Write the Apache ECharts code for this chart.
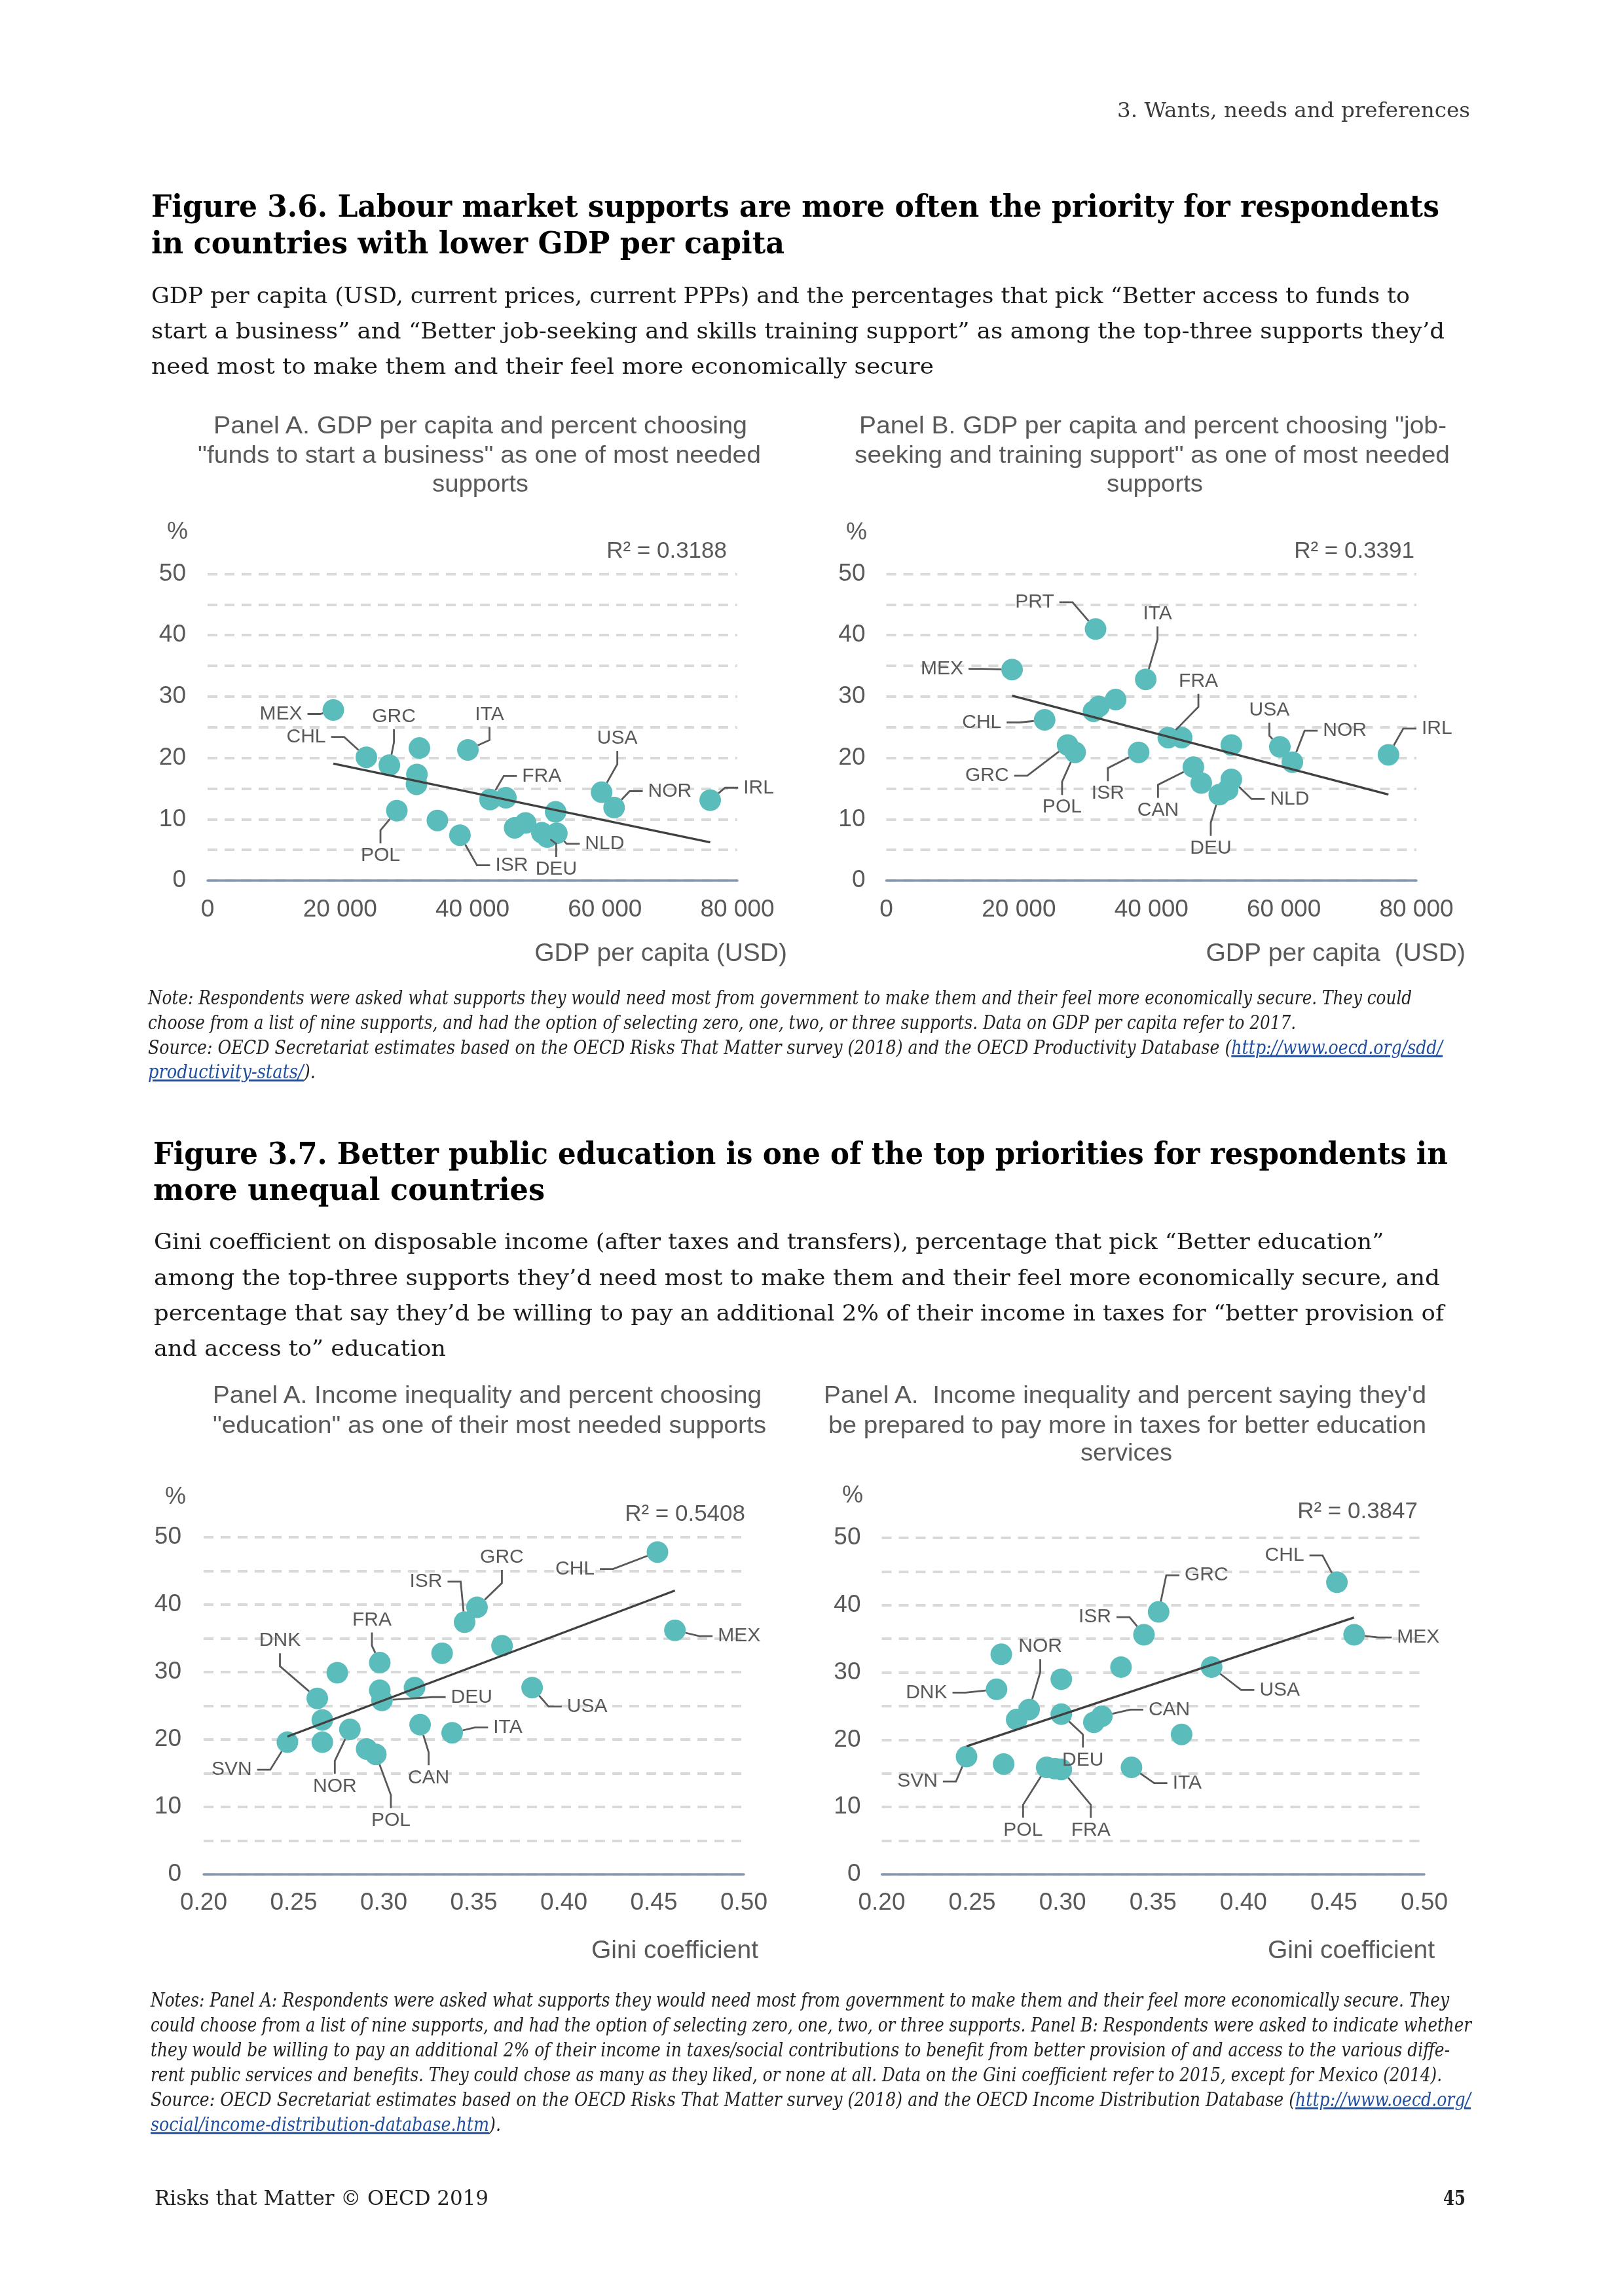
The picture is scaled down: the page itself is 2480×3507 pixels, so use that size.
<!DOCTYPE html>
<html>
<head>
<meta charset="utf-8">
<script src="https://cdn.jsdelivr.net/npm/echarts@6/dist/echarts.min.js"></script>
<style>
html,body{margin:0;padding:0;background:#fff;}
#page{position:relative;width:2480px;height:3507px;overflow:hidden;background:#fff;}
#chart{position:absolute;left:0;top:0;width:2480px;height:3507px;}
.ln{position:absolute;white-space:nowrap;transform-origin:0 50%;line-height:1.15;}
.hdr{font-family:"DejaVu Serif",serif;font-size:32px;color:#3a3a3a;}
.ttl{font-family:"DejaVu Serif",serif;font-weight:bold;font-size:46px;color:#000;}
.sub{font-family:"DejaVu Serif",serif;font-size:33px;color:#1a1a1a;}
.pt{font-family:"Liberation Sans",Arial,sans-serif;font-size:37px;color:#595959;}
.nt{font-family:"DejaVu Serif",serif;font-style:italic;font-size:30px;color:#222;}
.ft{font-family:"DejaVu Serif",serif;font-size:32px;color:#222;}
.ftb{font-family:"DejaVu Serif",serif;font-size:32px;font-weight:bold;color:#222;}
.lnk{color:#1F4E9E;text-decoration:underline;}
</style>
</head>
<body>
<div id="page"><div id="chart"></div></div>
<script>
// ---------------- DATA ----------------
// Figure 3.6 Panel A: GDP per capita (USD) vs % choosing "funds to start a business"
const namesA = ['MEX','CHL','GRC','','','','POL','','ISR','ITA','FRA','','','','DEU','NLD','','','USA','NOR','IRL'];
const gdpA   = [18990,23980,27450,31990,31610,31550,28580,34700,38110,39310,42650,45050,46370,48010,50470,52740,51290,52560,59500,61390,75900];
const fundsPct = [27.8,20.1,18.8,21.6,17.3,15.7,11.4,9.8,7.4,21.3,13.2,13.5,8.6,9.4,7.8,7.7,7.1,11.2,14.4,11.9,13.1];

// Figure 3.6 Panel B: GDP per capita (USD) vs % choosing "job-seeking and training support"
const namesB = ['MEX','CHL','GRC','POL','PRT','','','','ISR','ITA','FRA','','CAN','','DEU','','NLD','','USA','NOR','IRL'];
const gdpB   = [18980,23890,27360,28500,31580,32090,31270,34610,38080,39150,42550,44570,46340,47530,50250,51510,52070,52070,59390,61280,75780];
const jobPct = [34.4,26.2,22.1,20.9,41.0,28.4,27.6,29.5,20.9,32.8,23.3,23.3,18.5,15.9,14.0,14.8,16.5,22.1,21.8,19.3,20.5];

// Figure 3.7 Panel A: Gini coefficient vs % choosing "education"
const namesC = ['SVN','','DNK','','','NOR','','POL','FRA','','DEU','','CAN','','ITA','ISR','GRC','','USA','CHL','MEX'];
const giniA  = [0.2465,0.2659,0.2631,0.2659,0.2742,0.2812,0.2905,0.2956,0.2978,0.2978,0.2990,0.3171,0.3202,0.3324,0.3380,0.3449,0.3518,0.3657,0.3824,0.4520,0.4617];
const eduPct = [19.6,19.6,26.1,22.9,29.9,21.5,18.6,17.8,31.4,27.3,25.8,27.7,22.2,32.8,21.0,37.4,39.6,33.9,27.7,47.8,36.2];

// Figure 3.7 Panel B: Gini coefficient vs % willing to pay more taxes for education
const namesD = ['SVN','','DNK','','','NOR','POL','','FRA','','DEU','','CAN','','ITA','ISR','GRC','','USA','CHL','MEX'];
const giniB  = [0.2469,0.2674,0.2635,0.2661,0.2746,0.2815,0.2912,0.2958,0.2993,0.2993,0.2993,0.3173,0.3217,0.3323,0.3381,0.3450,0.3531,0.3658,0.3824,0.4517,0.4612];
const taxPct = [17.5,16.4,27.5,32.7,23.0,24.5,15.9,15.7,15.6,29.0,23.8,22.6,23.5,30.8,15.9,35.6,39.0,20.8,30.8,43.4,35.6];

const r2Labels = ['R\u00B2 = 0.3188','R\u00B2 = 0.3391','R\u00B2 = 0.5408','R\u00B2 = 0.3847'];
const xTitles = ['GDP per capita (USD)','GDP per capita  (USD)','Gini coefficient','Gini coefficient'];

// ---------------- LABEL OFFSETS (layout, px) ----------------
const offA = {MEX:[-80,6],CHL:[-92,-31],GRC:[7,-74],POL:[-25,69],ISR:[79,46],ITA:[33,-54],FRA:[79,-36],DEU:[22,56],NLD:[73,16],USA:[24,-82],NOR:[85,-25],IRL:[74,-19]};
const offB = {MEX:[-107,-1],CHL:[-96,4],GRC:[-123,47],POL:[-20,84],PRT:[-93,-41],ISR:[-47,63],ITA:[18,-100],FRA:[46,-86],CAN:[-54,66],DEU:[-13,82],NLD:[89,30],USA:[-16,-56],NOR:[80,-48],IRL:[74,-40]};
const offC = {SVN:[-85,42],DNK:[-57,-88],NOR:[-23,87],POL:[23,101],FRA:[-12,-65],DEU:[137,-5],CAN:[13,81],ITA:[85,-8],ISR:[-59,-62],GRC:[38,-76],USA:[84,29],CHL:[-126,26],MEX:[98,9]};
const offD = {SVN:[-75,38],DNK:[-107,5],NOR:[17,-96],POL:[-36,96],FRA:[45,93],DEU:[33,70],CAN:[103,-10],ITA:[85,24],ISR:[-75,-27],GRC:[73,-56],USA:[104,35],CHL:[-80,-41],MEX:[98,4]};

// ---------------- PAGE TEXT ----------------
const textLines = [
 {h:'3. Wants, needs and preferences', x:1706, cy:168, w:539, c:'hdr'},
 {h:'Figure 3.6. Labour market supports are more often the priority for respondents', x:231, cy:315, w:1967, c:'ttl'},
 {h:'in countries with lower GDP per capita', x:231, cy:371, w:967, c:'ttl'},
 {h:'GDP per capita (USD, current prices, current PPPs) and the percentages that pick \u201CBetter access to funds to', x:231, cy:452, w:1922, c:'sub'},
 {h:'start a business\u201D and \u201CBetter job-seeking and skills training support\u201D as among the top-three supports they\u2019d', x:231, cy:506, w:1975, c:'sub'},
 {h:'need most to make them and their feel more economically secure', x:231, cy:560, w:1195, c:'sub'},
 {h:'Panel A. GDP per capita and percent choosing', cx:733, cy:650, w:815, c:'pt'},
 {h:'"funds to start a business" as one of most needed', cx:732, cy:695, w:860, c:'pt'},
 {h:'supports', cx:733, cy:739, w:147, c:'pt'},
 {h:'Panel B. GDP per capita and percent choosing "job-', cx:1760, cy:650, w:897, c:'pt'},
 {h:'seeking and training support" as one of most needed', cx:1759, cy:695, w:909, c:'pt'},
 {h:'supports', cx:1763, cy:739, w:147, c:'pt'},
 {h:'Note: Respondents were asked what supports they would need most from government to make them and their feel more economically secure. They could', x:226, cy:1524, w:1930, c:'nt'},
 {h:'choose from a list of nine supports, and had the option of selecting zero, one, two, or three supports. Data on GDP per capita refer to 2017.', x:226, cy:1562, w:1753, c:'nt'},
 {h:'Source: OECD Secretariat estimates based on the OECD Risks That Matter survey (2018) and the OECD Productivity Database (<span class="lnk">http://www.oecd.org/sdd/</span>', x:226, cy:1600, w:1977, c:'nt'},
 {h:'<span class="lnk">productivity-stats/</span>).', x:226, cy:1637, w:256, c:'nt'},
 {h:'Figure 3.7. Better public education is one of the top priorities for respondents in', x:234, cy:1762, w:1977, c:'ttl'},
 {h:'more unequal countries', x:234, cy:1817, w:598, c:'ttl'},
 {h:'Gini coefficient on disposable income (after taxes and transfers), percentage that pick \u201CBetter education\u201D', x:235, cy:1897, w:1878, c:'sub'},
 {h:'among the top-three supports they\u2019d need most to make them and their feel more economically secure, and', x:235, cy:1952, w:1964, c:'sub'},
 {h:'percentage that say they\u2019d be willing to pay an additional 2% of their income in taxes for \u201Cbetter provision of', x:235, cy:2006, w:1970, c:'sub'},
 {h:'and access to\u201D education', x:235, cy:2060, w:446, c:'sub'},
 {h:'Panel A. Income inequality and percent choosing', cx:744, cy:2131, w:838, c:'pt'},
 {h:'"education" as one of their most needed supports', cx:747, cy:2177, w:845, c:'pt'},
 {h:'Panel A.&nbsp; Income inequality and percent saying they\'d', cx:1718, cy:2131, w:920, c:'pt'},
 {h:'be prepared to pay more in taxes for better education', cx:1721, cy:2177, w:913, c:'pt'},
 {h:'services', cx:1720, cy:2219, w:140, c:'pt'},
 {h:'Notes: Panel A: Respondents were asked what supports they would need most from government to make them and their feel more economically secure. They', x:230, cy:3055, w:1983, c:'nt'},
 {h:'could choose from a list of nine supports, and had the option of selecting zero, one, two, or three supports. Panel B: Respondents were asked to indicate whether', x:230, cy:3093, w:2017, c:'nt'},
 {h:'they would be willing to pay an additional 2% of their income in taxes/social contributions to benefit from better provision of and access to the various diffe-', x:230, cy:3131, w:1984, c:'nt'},
 {h:'rent public services and benefits. They could chose as many as they liked, or none at all. Data on the Gini coefficient refer to 2015, except for Mexico (2014).', x:230, cy:3169, w:1972, c:'nt'},
 {h:'Source: OECD Secretariat estimates based on the OECD Risks That Matter survey (2018) and the OECD Income Distribution Database (<span class="lnk">http://www.oecd.org/</span>', x:230, cy:3207, w:2016, c:'nt'},
 {h:'<span class="lnk">social/income-distribution-database.htm</span>).', x:230, cy:3245, w:535, c:'nt'},
 {h:'Risks that Matter \u00A9 OECD 2019', x:236, cy:3357, w:510, c:'ft'},
 {h:'45', x:2204, cy:3357, w:34, c:'ftb'}
];

const page = document.getElementById('page');
textLines.forEach(L => {
  const d = document.createElement('div');
  d.className = 'ln ' + L.c;
  d.innerHTML = L.h;
  page.appendChild(d);
  const nat = d.getBoundingClientRect().width;
  const k = nat > 0 ? L.w / nat : 1;
  const x = (L.cx != null) ? (L.cx - L.w / 2) : L.x;
  d.style.left = x + 'px';
  d.style.top = L.cy + 'px';
  d.style.transform = 'translateY(-50%) scaleX(' + k.toFixed(4) + ')';
});

// ---------------- CHART ----------------
function fmtThousands(v) { return v === 0 ? '0' : String(Math.round(v)).replace(/\B(?=(\d{3})+(?!\d))/g, ' '); }
function fmtGini(v) { return Number(v).toFixed(2); }
function trend(xs, ys) {
  const n = xs.length;
  let sx = 0, sy = 0;
  for (let i = 0; i < n; i++) { sx += xs[i]; sy += ys[i]; }
  const mx = sx / n, my = sy / n;
  let sxy = 0, sxx = 0;
  for (let i = 0; i < n; i++) { sxy += (xs[i] - mx) * (ys[i] - my); sxx += (xs[i] - mx) * (xs[i] - mx); }
  const b = sxy / sxx, a = my - b * mx;
  const x0 = Math.min.apply(null, xs), x1 = Math.max.apply(null, xs);
  return [[x0, a + b * x0], [x1, a + b * x1]];
}

const FONT = '"Liberation Sans", Arial, sans-serif';
const TEAL = '#5BBCBC';
const GREY = '#595959';

const panels = [
  {names:namesA, xs:gdpA, ys:fundsPct, offs:offA, grid:{left:317, top:876.5, width:809, height:468.5},
   xMin:0, xMax:80000, xInt:20000, fmt:fmtThousands, yMargin:33, xMargin:26,
   pct:[271,813], r2:[1110,842], xt:[1202,1457]},
  {names:namesB, xs:gdpB, ys:jobPct, offs:offB, grid:{left:1353.5, top:876.5, width:809.5, height:468.5},
   xMin:0, xMax:80000, xInt:20000, fmt:fmtThousands, yMargin:32, xMargin:26,
   pct:[1308,814], r2:[2160,842], xt:[2238,1457]},
  {names:namesC, xs:giniA, ys:eduPct, offs:offC, grid:{left:311, top:2348, width:825, height:515},
   xMin:0.20, xMax:0.50, xInt:0.05, fmt:fmtGini, yMargin:34, xMargin:25,
   pct:[268,2287], r2:[1138,2313], xt:[1158,2980]},
  {names:namesD, xs:giniB, ys:taxPct, offs:offD, grid:{left:1346.5, top:2349, width:828.5, height:514},
   xMin:0.20, xMax:0.50, xInt:0.05, fmt:fmtGini, yMargin:32, xMargin:25,
   pct:[1302,2285], r2:[2165,2309], xt:[2191,2980]}
];

const series = [];
const graphics = [];
panels.forEach((p, i) => {
  const data = p.xs.map((x, j) => {
    const nm = p.names[j];
    if (nm) return {value:[x, p.ys[j]], name:nm};
    return {value:[x, p.ys[j]], name:'', label:{show:false}, labelLine:{show:false}};
  });
  const names = p.names, offs = p.offs;
  series.push({
    type:'scatter', xAxisIndex:i, yAxisIndex:i, data:data, symbol:'circle', symbolSize:33,
    itemStyle:{color:TEAL, opacity:1}, silent:true, z:2,
    emphasis:{disabled:true},
    label:{show:true, position:'inside', formatter:'{b}', color:GREY, fontSize:30, fontFamily:FONT,
           padding:[4,8], backgroundColor:'rgba(255,255,255,0)'},
    labelLine:{show:true, showAbove:true, length2:20, lineStyle:{color:GREY, width:2.8}},
    labelLayout:function(prm){ const o = offs[names[prm.dataIndex]]; return o ? {dx:o[0], dy:o[1]} : {}; }
  });
  series.push({
    type:'line', xAxisIndex:i, yAxisIndex:i, data:trend(p.xs, p.ys), showSymbol:false, symbol:'none',
    lineStyle:{color:'#404040', width:3.4}, silent:true, z:3, emphasis:{disabled:true}
  });
  graphics.push({type:'text', z:10, style:{text:'%', x:p.pct[0], y:p.pct[1], align:'center', verticalAlign:'middle', textAlign:'center', textVerticalAlign:'middle', fontSize:36, fontFamily:FONT, fill:GREY}});
  graphics.push({type:'text', z:10, style:{text:r2Labels[i], x:p.r2[0], y:p.r2[1], align:'right', verticalAlign:'middle', textAlign:'right', textVerticalAlign:'middle', fontSize:35, fontFamily:FONT, fill:GREY}});
  graphics.push({type:'text', z:10, style:{text:xTitles[i], x:p.xt[0], y:p.xt[1], align:'right', verticalAlign:'middle', textAlign:'right', textVerticalAlign:'middle', fontSize:39, fontFamily:FONT, fill:GREY}});
});

const chart = echarts.init(document.getElementById('chart'), null, {renderer:'canvas', width:2480, height:3507});
chart.setOption({
  animation:false,
  backgroundColor:'transparent',
  textStyle:{fontFamily:FONT},
  grid: panels.map(p => ({left:p.grid.left, top:p.grid.top, width:p.grid.width, height:p.grid.height, containLabel:false})),
  xAxis: panels.map((p, i) => ({
    type:'value', gridIndex:i, min:p.xMin, max:p.xMax, interval:p.xInt,
    axisLine:{show:true, onZero:false, lineStyle:{color:'#8497B0', width:3.5}},
    axisTick:{show:false}, splitLine:{show:false},
    axisLabel:{color:GREY, fontSize:37, fontFamily:FONT, margin:p.xMargin, formatter:p.fmt}
  })),
  yAxis: panels.map((p, i) => ({
    type:'value', gridIndex:i, min:0, max:50, interval:5,
    axisLine:{show:false}, axisTick:{show:false},
    splitLine:{show:true, lineStyle:{color:'#D9D9D9', width:4, type:[15,11]}},
    axisLabel:{color:GREY, fontSize:37, fontFamily:FONT, margin:p.yMargin,
      formatter:function(v){ return (Math.round(v) % 10 === 0) ? String(Math.round(v)) : ''; }}
  })),
  graphic: graphics,
  series: series
});
</script>
</body>
</html>
